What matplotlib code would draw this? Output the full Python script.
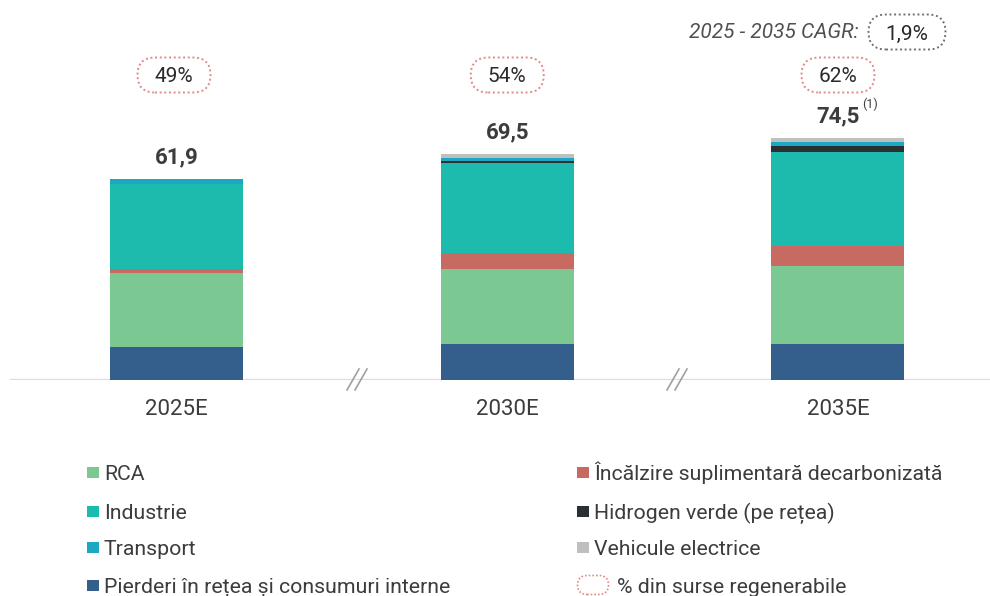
import matplotlib
matplotlib.use('Agg')
import matplotlib.pyplot as plt
from matplotlib.patches import FancyBboxPatch, Rectangle
from matplotlib.transforms import ScaledTranslation, blended_transform_factory

plt.rcParams['font.family'] = ['Roboto', 'DejaVu Sans']

# ---------------- data ----------------
years = ['2025E', '2030E', '2035E']
pierderi = [10.3, 11.1, 11.1]
rca = [22.6, 23.1, 24.0]
incalzire = [1.2, 4.8, 6.3]
industrie = [26.3, 27.8, 28.8]
hidrogen = [0.0, 0.8, 1.8]
transport = [1.4, 0.9, 1.4]
vehicule = [0.1, 1.0, 1.1]
total_labels = ['61,9', '69,5', '74,5']
total_values = [61.9, 69.5, 74.5]
renewable_share = ['49%', '54%', '62%']
cagr_label = '2025 - 2035 CAGR:'
cagr_value = '1,9%'

series_names = ['Pierderi în rețea și consumuri interne', 'RCA',
                'Încălzire suplimentară decarbonizată', 'Industrie',
                'Hidrogen verde (pe rețea)', 'Transport', 'Vehicule electrice']
series_values = [pierderi, rca, incalzire, industrie, hidrogen, transport, vehicule]
series_colors = ['#345E8C', '#7CC892', '#C76B62', '#1DBAAE',
                 '#2A2F33', '#1AA8C2', '#BDBFC1']
renew_label = '% din surse regenerabile'
legend_col1 = ['RCA', 'Industrie', 'Transport', 'Pierderi în rețea și consumuri interne']
legend_col2 = ['Încălzire suplimentară decarbonizată', 'Hidrogen verde (pe rețea)', 'Vehicule electrice']

TXT = '#3C3C3C'
PILL_RED = '#E08A86'
PILL_GRAY = '#707070'

# ---------------- figure ----------------
W, H = 990, 596
fig = plt.figure(figsize=(W / 100, H / 100), dpi=100)
base_px = 380
ax = fig.add_axes([0, (H - base_px) / H, 1, base_px / H])
px_per_unit = 3.247
spacing = 330.75
c0 = 176.5
ax.set_xlim(-c0 / spacing, (W - c0) / spacing)
ax.set_ylim(0, base_px / px_per_unit)
ax.axis('off')

x = list(range(len(years)))
bottom = [0.0] * len(years)
bar_w = 133 / spacing
for name, vals, col in zip(series_names, series_values, series_colors):
    ax.bar(x, vals, bar_w, bottom=bottom, color=col, linewidth=0, zorder=3, label=name)
    bottom = [bo + v for bo, v in zip(bottom, vals)]

# baseline
ax.axhline(0, xmin=11 / W, xmax=1, color='#DDDDDD', lw=1.6, zorder=2)

# category labels
for xi, lab in zip(x, years):
    ax.annotate(lab, xy=(xi, 0), xytext=(0, -14), textcoords='offset points',
                ha='center', va='top', fontsize=16, color=TXT)

# break marks
for xb in [(357 - c0) / spacing, (677 - c0) / spacing]:
    tr = fig.dpi_scale_trans + ScaledTranslation(xb, 0, ax.transData)
    for dx in (-0.04, 0.04):
        ax.plot([dx - 0.06, dx + 0.06], [-0.10, 0.11], color='#A0A0A0', lw=1.2,
                transform=tr, clip_on=False, zorder=4)

# totals
for xi, tv, tl in zip(x, total_values, total_labels):
    ax.annotate(tl, xy=(xi, tv), xytext=(0, 11.5), textcoords='offset points',
                ha='center', va='baseline', fontsize=16, fontweight='bold', color=TXT)
ax.annotate('(1)', xy=(x[-1], total_values[-1]), xytext=(17.5, 22), textcoords='offset points',
            ha='left', va='baseline', fontsize=9, color=TXT)


def pill(xc, yc, trans_base, w_in, h_in, color, label=None, fs=15, lw=1.4):
    tr = fig.dpi_scale_trans + ScaledTranslation(xc, yc, trans_base)
    p = FancyBboxPatch((-w_in / 2, -h_in / 2), w_in, h_in,
                       boxstyle=f'round,pad=0,rounding_size={h_in / 2}',
                       transform=tr, facecolor='none', edgecolor=color,
                       linestyle=(0, (1, 1.4)), lw=lw, clip_on=False)
    if trans_base is fig.transFigure:
        fig.add_artist(p)
    else:
        ax.add_artist(p)
    if label:
        t = fig.text if trans_base is fig.transFigure else ax.text
        t(xc, yc, label, transform=trans_base, ha='center', va='center_baseline',
          fontsize=fs, color='#2A2A2A')


# renewable share pills
bt = blended_transform_factory(ax.transData, ax.transAxes)
pill_x = [(174 - c0) / spacing, 1.0, 2.0]
for xi, lab in zip(pill_x, renewable_share):
    pill(xi, (base_px - 75) / base_px, bt, 0.73, 0.35, PILL_RED, lab, fs=15)

# CAGR
fig.text(859 / W, (H - 31) / H, cagr_label, ha='right', va='center_baseline',
         fontsize=15, style='italic', color='#505050')
pill(907 / W, (H - 32) / H, fig.transFigure, 0.77, 0.35, PILL_GRAY, cagr_value, fs=15)

# ---------------- legend (manual, pixel positions) ----------------
fs_leg = 15.3
row_y = [472, 511, 547, 585]
cap_half = fs_leg / 72 * 100 * 0.711 / 2


def fx(px):
    return px / W


def fy(py):
    return (H - py) / H


def legend_entry(xs, yc, color, label):
    fig.add_artist(Rectangle((fx(xs), fy(yc + 5.5)), 12 / W, 11 / H, transform=fig.transFigure,
                             facecolor=color, edgecolor='none'))
    fig.text(fx(xs + 17), fy(yc + cap_half), label, ha='left', va='baseline',
             fontsize=fs_leg, color=TXT)


for yc, lab in zip(row_y, legend_col1):
    legend_entry(87, yc, series_colors[series_names.index(lab)], lab)
for yc, lab in zip(row_y, legend_col2):
    legend_entry(577, yc, series_colors[series_names.index(lab)], lab)

# pill legend entry
tr = fig.dpi_scale_trans + ScaledTranslation(fx(593), fy(row_y[3]), fig.transFigure)
fig.add_artist(FancyBboxPatch((-0.155, -0.095), 0.31, 0.19, boxstyle='round,pad=0,rounding_size=0.095',
                              transform=tr, facecolor='none', edgecolor=PILL_RED,
                              linestyle=(0, (1, 1.2)), lw=1.2))
fig.text(fx(617), fy(row_y[3] + cap_half), renew_label, ha='left', va='baseline',
         fontsize=fs_leg, color=TXT)

fig.savefig('out.png', dpi=100)
